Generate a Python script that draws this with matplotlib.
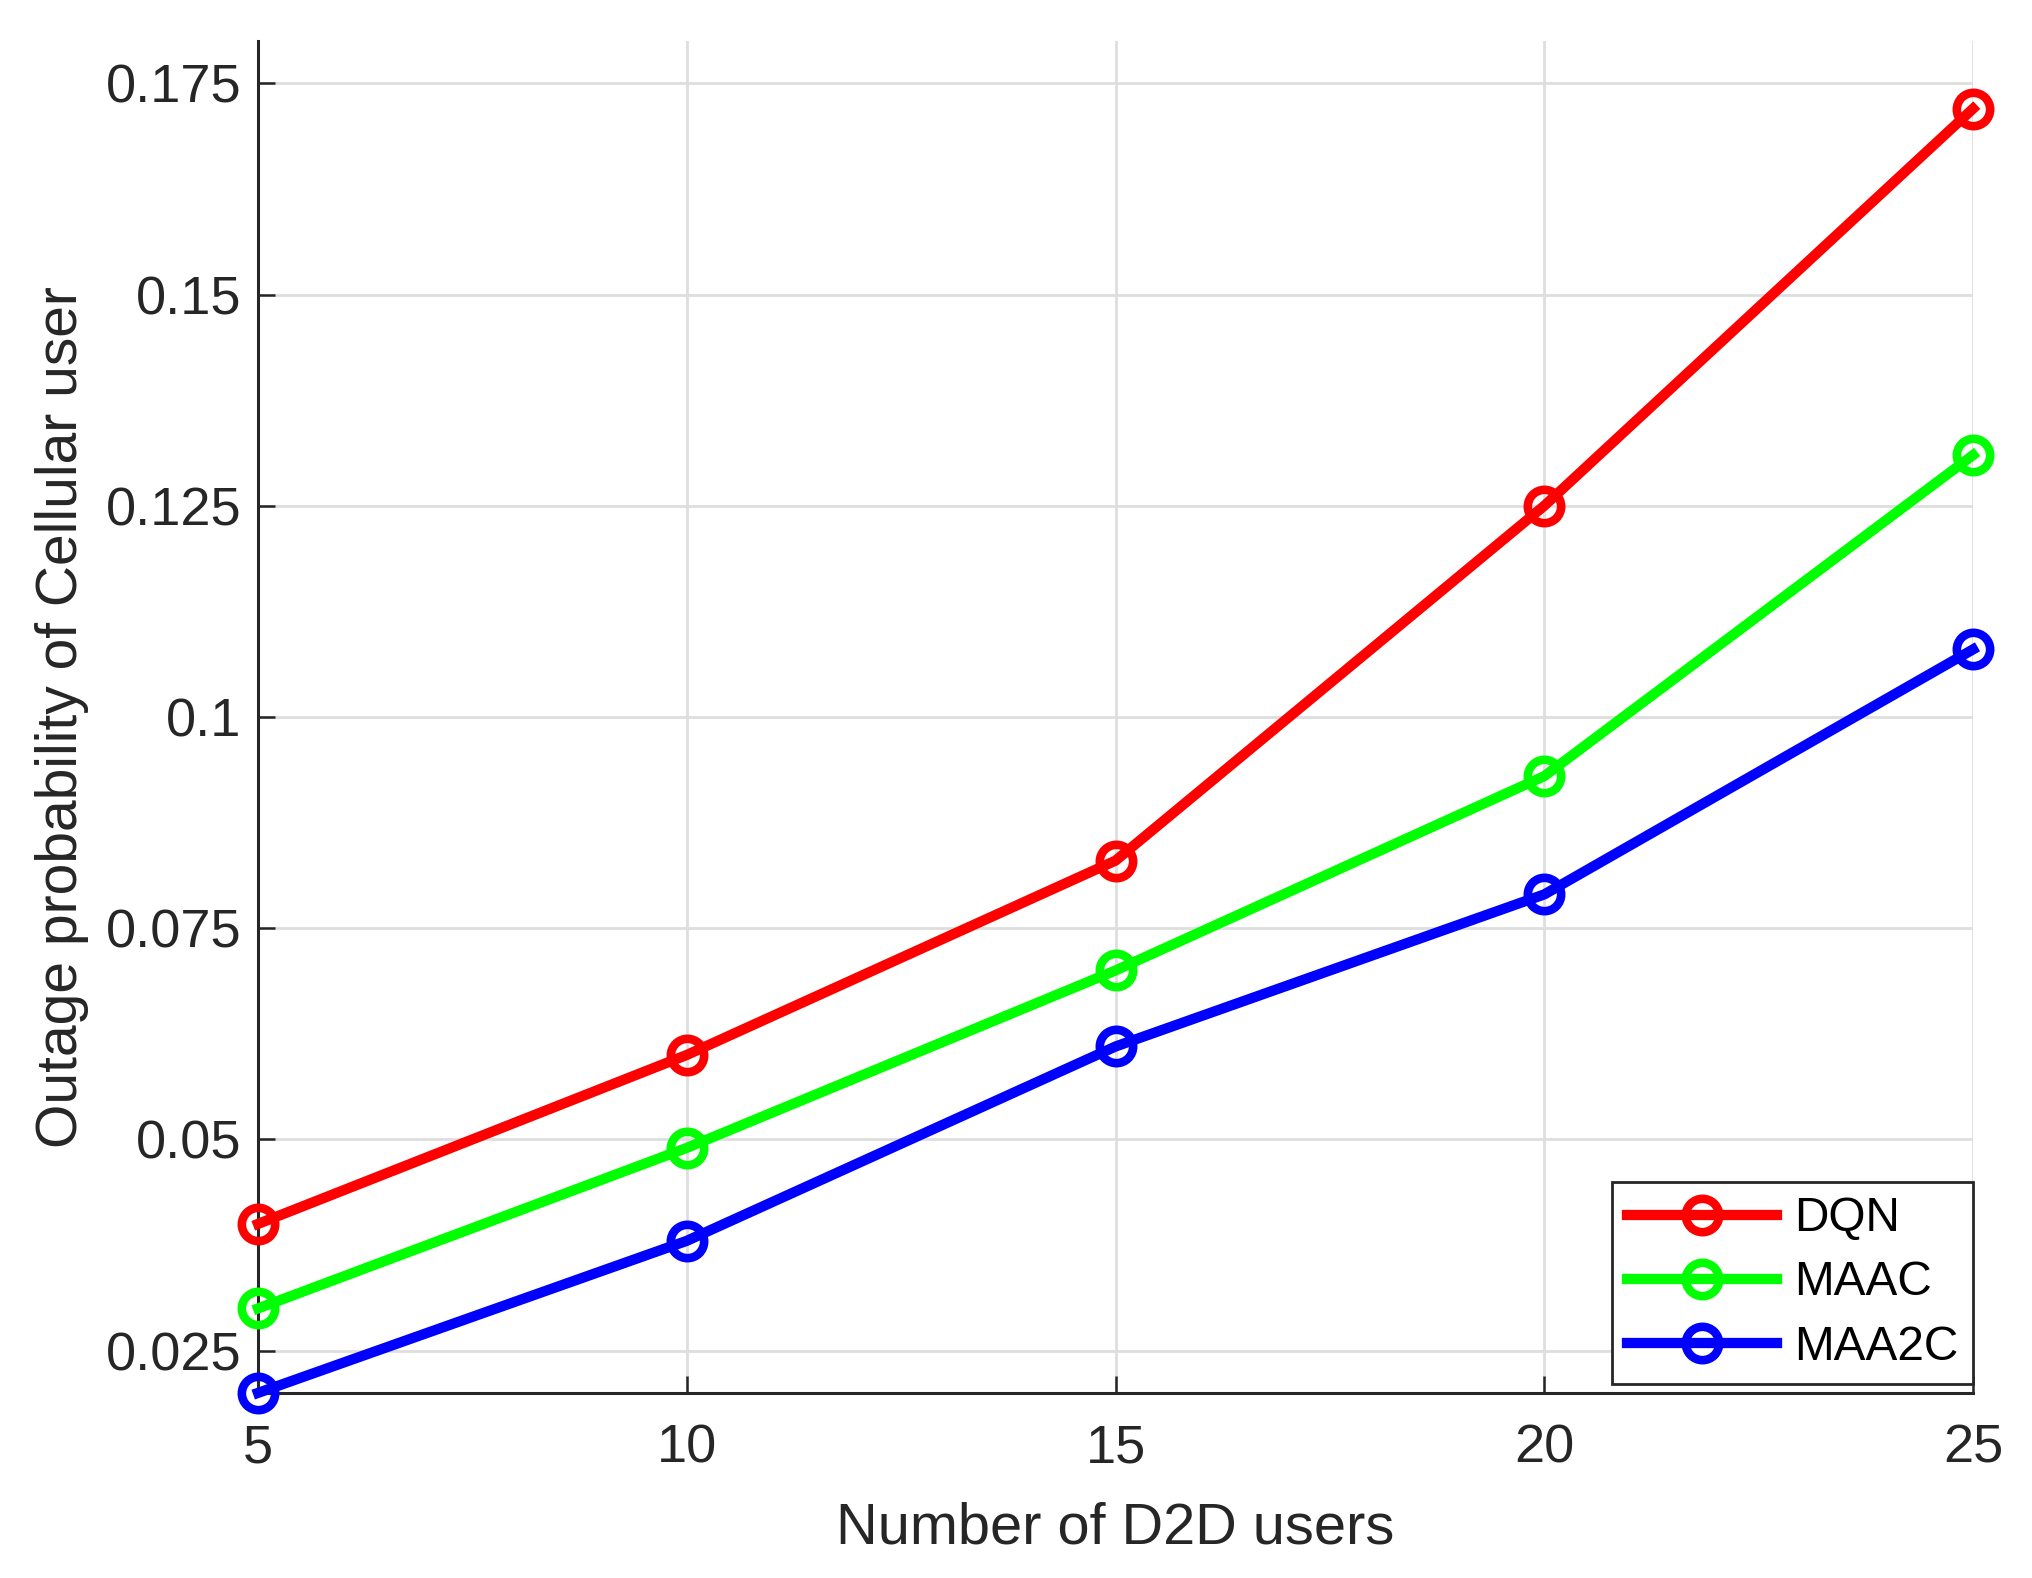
import matplotlib
matplotlib.use('Agg')
import matplotlib.pyplot as plt

plt.rcParams['font.family'] = ['Liberation Sans', 'DejaVu Sans']

# data
num_d2d = [5, 10, 15, 20, 25]
dqn = [0.040, 0.060, 0.083, 0.125, 0.172]
maac = [0.030, 0.049, 0.070, 0.093, 0.131]
maa2c = [0.020, 0.038, 0.061, 0.079, 0.108]

series = [('DQN', dqn, '#ff0000'),
          ('MAAC', maac, '#00ff00'),
          ('MAA2C', maa2c, '#0000ff')]

text_color = '#262626'

fig = plt.figure(figsize=(10.16, 7.89), dpi=200)
ax = fig.add_axes([0.127, 0.1173, 0.844, 0.8567])

for name, vals, col in series:
    ax.plot(num_d2d, vals, '-o', color=col, linewidth=3.7, markersize=12,
            markeredgewidth=3.1, markerfacecolor='none', label=name,
            clip_on=False, zorder=3)

ax.set_xlim(5, 25)
ax.set_ylim(0.02, 0.18)
ax.set_xticks([5, 10, 15, 20, 25])
ax.set_yticks([0.025, 0.05, 0.075, 0.1, 0.125, 0.15, 0.175])
ax.set_yticklabels(['0.025', '0.05', '0.075', '0.1', '0.125', '0.15', '0.175'])

ax.grid(True, color='#dedede', linewidth=1.0)
ax.set_axisbelow(True)

for s in ['top', 'right']:
    ax.spines[s].set_visible(False)
for s in ['left', 'bottom']:
    ax.spines[s].set_color(text_color)
    ax.spines[s].set_linewidth(1.1)

ax.tick_params(direction='in', length=6, width=0.9, colors=text_color,
               labelsize=19.5)
ax.tick_params(axis='x', pad=11)
ax.tick_params(axis='y', pad=6)

ax.set_xlabel('Number of D2D users', fontsize=20.8, color=text_color, labelpad=10)
ax.set_ylabel('Outage probability of Cellular user', fontsize=20.5,
              color=text_color, labelpad=6)

leg = ax.legend(loc='lower right', fontsize=17.2, frameon=True, fancybox=False,
                borderaxespad=0, handlelength=3.15, handletextpad=0.36,
                labelspacing=0.4, borderpad=0.3, bbox_to_anchor=(1.0, 0.0067))
leg.get_frame().set_edgecolor('#262626')
leg.get_frame().set_linewidth(1.0)
leg.get_frame().set_alpha(1)

fig.savefig('out.png', dpi=200)
